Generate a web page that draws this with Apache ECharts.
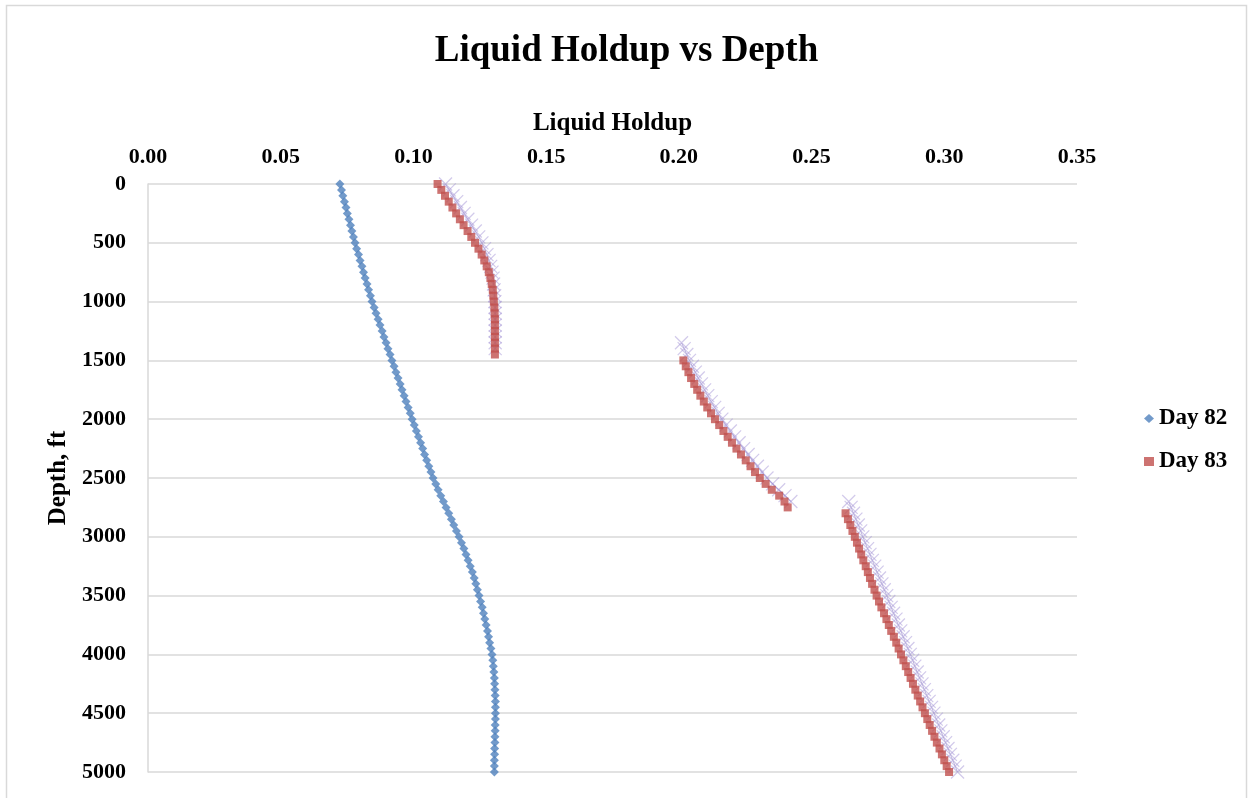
<!DOCTYPE html>
<html>
<head>
<meta charset="utf-8">
<title>Liquid Holdup vs Depth</title>
<script src="https://cdn.jsdelivr.net/npm/echarts@6/dist/echarts.min.js"></script>
<style>
  html, body { margin: 0; padding: 0; background: #ffffff; }
  #chart { width: 1253px; height: 798px; }
</style>
</head>
<body>
<div id="chart"></div>
<script>
// Axis ticks
const holdupTicks = [0.00, 0.05, 0.10, 0.15, 0.20, 0.25, 0.30, 0.35];
const depthTicks = [0, 500, 1000, 1500, 2000, 2500, 3000, 3500, 4000, 4500, 5000];

// Day 82 — depth (ft) and liquid holdup
const day82Depth = [
  0, 50, 100, 150, 200, 250, 300, 350, 400, 450,
  500, 550, 600, 650, 700, 750, 800, 850, 900, 950,
  1000, 1050, 1100, 1150, 1200, 1250, 1300, 1350, 1400, 1450,
  1500, 1550, 1600, 1650, 1700, 1750, 1800, 1850, 1900, 1950,
  2000, 2050, 2100, 2150, 2200, 2250, 2300, 2350, 2400, 2450,
  2500, 2550, 2600, 2650, 2700, 2750, 2800, 2850, 2900, 2950,
  3000, 3050, 3100, 3150, 3200, 3250, 3300, 3350, 3400, 3450,
  3500, 3550, 3600, 3650, 3700, 3750, 3800, 3850, 3900, 3950,
  4000, 4050, 4100, 4150, 4200, 4250, 4300, 4350, 4400, 4450,
  4500, 4550, 4600, 4650, 4700, 4750, 4800, 4850, 4900, 4950,
  5000
];
const day82Holdup = [
  0.0723, 0.0729, 0.0734, 0.0740, 0.0746, 0.0751, 0.0757, 0.0763, 0.0768, 0.0774,
  0.0780, 0.0786, 0.0793, 0.0799, 0.0806, 0.0812, 0.0818, 0.0825, 0.0831, 0.0838,
  0.0844, 0.0852, 0.0859, 0.0867, 0.0874, 0.0882, 0.0889, 0.0897, 0.0904, 0.0912,
  0.0919, 0.0927, 0.0934, 0.0942, 0.0950, 0.0957, 0.0965, 0.0972, 0.0980, 0.0988,
  0.0995, 0.1003, 0.1011, 0.1019, 0.1027, 0.1035, 0.1042, 0.1050, 0.1058, 0.1066,
  0.1074, 0.1084, 0.1093, 0.1103, 0.1113, 0.1123, 0.1133, 0.1143, 0.1152, 0.1162,
  0.1172, 0.1181, 0.1190, 0.1198, 0.1206, 0.1214, 0.1222, 0.1229, 0.1235, 0.1241,
  0.1247, 0.1253, 0.1259, 0.1264, 0.1269, 0.1274, 0.1279, 0.1283, 0.1287, 0.1292,
  0.1296, 0.1299, 0.1301, 0.1303, 0.1305, 0.1306, 0.1307, 0.1308, 0.1309, 0.1309,
  0.1309, 0.1309, 0.1308, 0.1308, 0.1307, 0.1307, 0.1306, 0.1306, 0.1305, 0.1305,
  0.1305
];

// Day 83 — three measured intervals
const day83DepthA = [
  0, 50, 100, 150, 200, 250, 300, 350, 400, 450,
  500, 550, 600, 650, 700, 750, 800, 850, 900, 950,
  1000, 1050, 1100, 1150, 1200, 1250, 1300, 1350, 1400, 1450
];
const day83HoldupA = [
  0.1091, 0.1105, 0.1119, 0.1133, 0.1147, 0.1161, 0.1175, 0.1189, 0.1204, 0.1218,
  0.1232, 0.1245, 0.1257, 0.1267, 0.1276, 0.1284, 0.1290, 0.1295, 0.1299, 0.1301,
  0.1303, 0.1305, 0.1306, 0.1307, 0.1307, 0.1307, 0.1307, 0.1307, 0.1307, 0.1307
];
const day83DepthB = [
  1500, 1550, 1600, 1650, 1700, 1750, 1800, 1850, 1900, 1950,
  2000, 2050, 2100, 2150, 2200, 2250, 2300, 2350, 2400, 2450,
  2500, 2550, 2600, 2650, 2700, 2750
];
const day83HoldupB = [
  0.2017, 0.2026, 0.2036, 0.2046, 0.2058, 0.2069, 0.2081, 0.2094, 0.2107, 0.2121,
  0.2136, 0.2152, 0.2168, 0.2184, 0.2200, 0.2217, 0.2234, 0.2252, 0.2270, 0.2287,
  0.2305, 0.2327, 0.2350, 0.2378, 0.2398, 0.2410
];
const day83DepthC = [
  2800, 2850, 2900, 2950, 3000, 3050, 3100, 3150, 3200, 3250,
  3300, 3350, 3400, 3450, 3500, 3550, 3600, 3650, 3700, 3750,
  3800, 3850, 3900, 3950, 4000, 4050, 4100, 4150, 4200, 4250,
  4300, 4350, 4400, 4450, 4500, 4550, 4600, 4650, 4700, 4750,
  4800, 4850, 4900, 4950, 5000
];
const day83HoldupC = [
  0.2628, 0.2637, 0.2646, 0.2654, 0.2663, 0.2671, 0.2679, 0.2687, 0.2695, 0.2704,
  0.2712, 0.2720, 0.2728, 0.2737, 0.2745, 0.2754, 0.2763, 0.2773, 0.2782, 0.2791,
  0.2800, 0.2810, 0.2819, 0.2828, 0.2837, 0.2846, 0.2855, 0.2864, 0.2873, 0.2882,
  0.2891, 0.2900, 0.2909, 0.2918, 0.2927, 0.2936, 0.2945, 0.2954, 0.2963, 0.2972,
  0.2982, 0.2991, 0.3000, 0.3009, 0.3018
];

// Day 83 trend (faint crosses with thin connecting line)
const trendDepthA = [
  0, 50, 100, 150, 200, 250, 300, 350, 400, 450,
  500, 550, 600, 650, 700, 750, 800, 850, 900, 950,
  1000, 1050, 1100, 1150, 1200, 1250, 1300, 1350, 1400
];
const trendHoldupA = [
  0.1121, 0.1135, 0.1149, 0.1163, 0.1177, 0.1191, 0.1205, 0.1219, 0.1233, 0.1246,
  0.1258, 0.1268, 0.1277, 0.1285, 0.1291, 0.1296, 0.1300, 0.1302, 0.1304, 0.1306,
  0.1307, 0.1308, 0.1308, 0.1308, 0.1308, 0.1308, 0.1308, 0.1308, 0.1308
];
const trendDepthB = [
  1350, 1400, 1450, 1500, 1550, 1600, 1650, 1700, 1750, 1800,
  1850, 1900, 1950, 2000, 2050, 2100, 2150, 2200, 2250, 2300,
  2350, 2400, 2450, 2500, 2550, 2600, 2650, 2700
];
const trendHoldupB = [
  0.2010, 0.2020, 0.2030, 0.2040, 0.2051, 0.2062, 0.2073, 0.2085, 0.2097, 0.2109,
  0.2122, 0.2135, 0.2148, 0.2162, 0.2178, 0.2194, 0.2210, 0.2227, 0.2244, 0.2261,
  0.2278, 0.2296, 0.2314, 0.2332, 0.2353, 0.2376, 0.2400, 0.2422
];
const trendDepthC = [
  2700, 2750, 2800, 2850, 2900, 2950, 3000, 3050, 3100, 3150,
  3200, 3250, 3300, 3350, 3400, 3450, 3500, 3550, 3600, 3650,
  3700, 3750, 3800, 3850, 3900, 3950, 4000, 4050, 4100, 4150,
  4200, 4250, 4300, 4350, 4400, 4450, 4500, 4550, 4600, 4650,
  4700, 4750, 4800, 4850, 4900, 4950, 5000
];
const trendHoldupC = [
  0.2640, 0.2649, 0.2658, 0.2667, 0.2676, 0.2685, 0.2693, 0.2702, 0.2711, 0.2720,
  0.2729, 0.2738, 0.2747, 0.2756, 0.2765, 0.2774, 0.2783, 0.2791, 0.2800, 0.2809,
  0.2818, 0.2827, 0.2836, 0.2845, 0.2854, 0.2863, 0.2872, 0.2881, 0.2889, 0.2898,
  0.2907, 0.2916, 0.2925, 0.2934, 0.2943, 0.2952, 0.2961, 0.2970, 0.2979, 0.2987,
  0.2996, 0.3005, 0.3014, 0.3023, 0.3032, 0.3041, 0.3050
];

function pairs(holdup, depth) {
  return holdup.map((v, i) => [v, depth[i]]);
}

const FONT = '"Liberation Serif", "Times New Roman", serif';
const GRID_COLOR = '#d9d9d9';
const BLUE = '#4f81bd';
const RED = '#c0504d';
const CROSS = 'path://M0,0L10,10M10,0L0,10';

function trendSeries(holdup, depth) {
  return {
    name: 'Day 83 trend',
    type: 'line',
    data: pairs(holdup, depth),
    symbol: CROSS,
    symbolSize: 13,
    showAllSymbol: true,
    smooth: false,
    z: 2,
    lineStyle: { color: 'rgba(140,125,195,0.55)', width: 1 },
    itemStyle: { color: 'rgba(0,0,0,0)', borderColor: 'rgba(165,150,215,0.5)', borderWidth: 1.2 },
    emphasis: { disabled: true },
    silent: true
  };
}

const chart = echarts.init(document.getElementById('chart'), null, { renderer: 'canvas' });

chart.setOption({
  backgroundColor: '#ffffff',
  animation: false,
  textStyle: { fontFamily: FONT },
  graphic: [{
    type: 'rect',
    shape: { x: 6.5, y: 5.5, width: 1240, height: 800 },
    style: { fill: 'none', stroke: GRID_COLOR, lineWidth: 1.5 },
    silent: true
  }],
  title: {
    text: 'Liquid Holdup vs Depth',
    left: 'center',
    top: 28,
    textStyle: { fontFamily: FONT, fontSize: 37, fontWeight: 'bold', color: '#000' }
  },
  legend: {
    orient: 'vertical',
    left: 1139,
    top: 402,
    itemGap: 20,
    itemWidth: 10,
    itemHeight: 9,
    data: [
      { name: 'Day 82', icon: 'diamond' },
      { name: 'Day 83', icon: 'rect' }
    ],
    textStyle: { fontFamily: FONT, fontSize: 23, fontWeight: 'bold', color: '#000' }
  },
  grid: { left: 148, right: 176, top: 184, bottom: 26, containLabel: false },
  xAxis: {
    type: 'value',
    position: 'top',
    min: holdupTicks[0],
    max: holdupTicks[holdupTicks.length - 1],
    interval: 0.05,
    name: 'Liquid Holdup',
    nameLocation: 'middle',
    nameGap: 48,
    nameTextStyle: { fontFamily: FONT, fontSize: 25, fontWeight: 'bold', color: '#000' },
    axisLine: { show: false },
    axisTick: { show: false },
    splitLine: { show: false },
    axisLabel: {
      margin: 16,
      fontFamily: FONT, fontSize: 22, fontWeight: 'bold', color: '#000',
      formatter: v => v.toFixed(2)
    }
  },
  yAxis: {
    type: 'value',
    inverse: true,
    min: depthTicks[0],
    max: depthTicks[depthTicks.length - 1],
    interval: 500,
    name: 'Depth, ft',
    nameLocation: 'middle',
    nameGap: 76,
    nameTextStyle: { fontFamily: FONT, fontSize: 25, fontWeight: 'bold', color: '#000' },
    axisLine: { show: true, lineStyle: { color: GRID_COLOR, width: 1.5 } },
    axisTick: { show: false },
    splitLine: { show: true, lineStyle: { color: GRID_COLOR, width: 1.5 } },
    axisLabel: {
      margin: 22,
      fontFamily: FONT, fontSize: 22, fontWeight: 'bold', color: '#000',
      formatter: v => String(v)
    }
  },
  series: [
    {
      name: 'Day 82',
      type: 'scatter',
      data: pairs(day82Holdup, day82Depth),
      symbol: 'diamond',
      symbolSize: 9,
      z: 3,
      itemStyle: { color: BLUE }
    },
    {
      name: 'Day 83',
      type: 'scatter',
      data: pairs(day83HoldupA, day83DepthA)
        .concat(pairs(day83HoldupB, day83DepthB))
        .concat(pairs(day83HoldupC, day83DepthC)),
      symbol: 'rect',
      symbolSize: 8,
      z: 4,
      itemStyle: { color: RED }
    },
    trendSeries(trendHoldupA, trendDepthA),
    trendSeries(trendHoldupB, trendDepthB),
    trendSeries(trendHoldupC, trendDepthC)
  ]
});
</script>
</body>
</html>
